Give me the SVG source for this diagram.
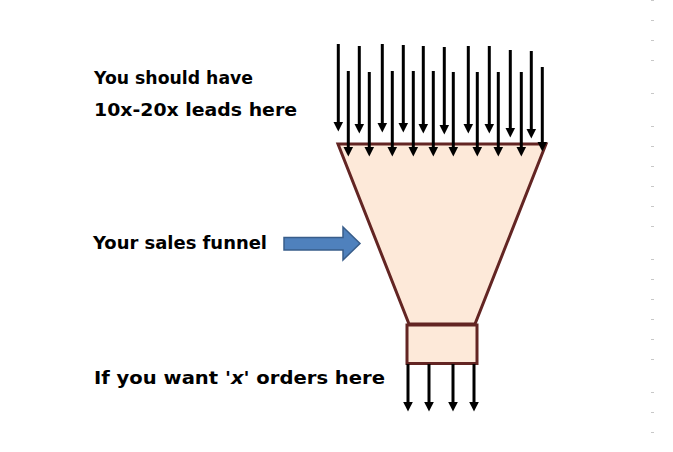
<svg xmlns="http://www.w3.org/2000/svg" width="673" height="452" viewBox="0 0 673 452">
<style>
  .lbl { font-family: "DejaVu Sans", "Liberation Sans", sans-serif; font-size: 18px; font-weight: bold; fill: #000; }
  .arr { stroke: #000; stroke-width: 3; fill: none; marker-end: url(#head); }
  .funnel { fill: #FDE9D9; stroke: #632523; stroke-width: 3; stroke-linejoin: miter; }
  .tick { stroke: #c8c8c8; stroke-width: 1; }
</style>
<defs>
  <marker id="head" markerUnits="userSpaceOnUse" markerWidth="12" markerHeight="12" refX="0" refY="0" viewBox="0 -6 12 12" orient="auto">
    <path d="M0,-4.8 L9.5,0 L0,4.8 z" fill="#000"/>
  </marker>
</defs>
<rect width="673" height="452" fill="#fff"/>

<g id="edge-ticks">
  <line class="tick" x1="651" y1="0.5" x2="654" y2="0.5"/>
  <line class="tick" x1="651" y1="20.5" x2="654" y2="20.5"/>
  <line class="tick" x1="651" y1="40.5" x2="654" y2="40.5"/>
  <line class="tick" x1="651" y1="60.5" x2="654" y2="60.5"/>
  <line class="tick" x1="651" y1="93.5" x2="654" y2="93.5"/>
  <line class="tick" x1="651" y1="126.5" x2="654" y2="126.5"/>
  <line class="tick" x1="651" y1="146.5" x2="654" y2="146.5"/>
  <line class="tick" x1="651" y1="166.5" x2="654" y2="166.5"/>
  <line class="tick" x1="651" y1="186.5" x2="654" y2="186.5"/>
  <line class="tick" x1="651" y1="206.5" x2="654" y2="206.5"/>
  <line class="tick" x1="651" y1="226.5" x2="654" y2="226.5"/>
  <line class="tick" x1="651" y1="259.5" x2="654" y2="259.5"/>
  <line class="tick" x1="651" y1="279.5" x2="654" y2="279.5"/>
  <line class="tick" x1="651" y1="299.5" x2="654" y2="299.5"/>
  <line class="tick" x1="651" y1="319.5" x2="654" y2="319.5"/>
  <line class="tick" x1="651" y1="339.5" x2="654" y2="339.5"/>
  <line class="tick" x1="651" y1="359.5" x2="654" y2="359.5"/>
  <line class="tick" x1="651" y1="392.5" x2="654" y2="392.5"/>
  <line class="tick" x1="651" y1="412.5" x2="654" y2="412.5"/>
  <line class="tick" x1="651" y1="432.5" x2="654" y2="432.5"/>
</g>

<g id="funnel">
  <polygon class="funnel" points="338,144 546,144 475,324 409,324"/>
  <rect class="funnel" x="407" y="325" width="70" height="38.5"/>
</g>

<g id="pointer-arrow">
  <path d="M284,237.5 L343,237.5 L343,227 L360,243.5 L343,260 L343,250 L284,250 z" fill="#4F81BD" stroke="#385D8A" stroke-width="1.5" stroke-linejoin="miter"/>
</g>

<g id="connectors">
  <line class="arr" x1="338.3" y1="44" x2="338.3" y2="122"/>
  <line class="arr" x1="359.3" y1="46" x2="359.3" y2="124"/>
  <line class="arr" x1="382.3" y1="44" x2="382.3" y2="123"/>
  <line class="arr" x1="403.3" y1="45" x2="403.3" y2="123"/>
  <line class="arr" x1="423.3" y1="46" x2="423.3" y2="124"/>
  <line class="arr" x1="444.3" y1="47" x2="444.3" y2="125"/>
  <line class="arr" x1="468.3" y1="46" x2="468.3" y2="124"/>
  <line class="arr" x1="489.3" y1="46" x2="489.3" y2="124"/>
  <line class="arr" x1="510.3" y1="50" x2="510.3" y2="128"/>
  <line class="arr" x1="531.3" y1="51" x2="531.3" y2="129"/>

  <line class="arr" x1="348.3" y1="71" x2="348.3" y2="147"/>
  <line class="arr" x1="369.3" y1="72" x2="369.3" y2="147"/>
  <line class="arr" x1="392.3" y1="71" x2="392.3" y2="147"/>
  <line class="arr" x1="413.3" y1="71" x2="413.3" y2="147"/>
  <line class="arr" x1="433.3" y1="71" x2="433.3" y2="147"/>
  <line class="arr" x1="453.3" y1="72" x2="453.3" y2="147"/>
  <line class="arr" x1="477.3" y1="72" x2="477.3" y2="147"/>
  <line class="arr" x1="498.3" y1="72" x2="498.3" y2="147"/>
  <line class="arr" x1="521.3" y1="72" x2="521.3" y2="147"/>
  <line class="arr" x1="542.3" y1="67" x2="542.3" y2="142"/>

  <line class="arr" x1="408" y1="364" x2="408" y2="402"/>
  <line class="arr" x1="429" y1="364" x2="429" y2="402"/>
  <line class="arr" x1="453" y1="364" x2="453" y2="402"/>
  <line class="arr" x1="474" y1="364" x2="474" y2="402"/>
</g>

<g id="labels">
  <text class="lbl" x="94" y="84" textLength="159" lengthAdjust="spacingAndGlyphs">You should have</text>
  <text class="lbl" x="94" y="116" textLength="203" lengthAdjust="spacingAndGlyphs">10x-20x leads here</text>
  <text class="lbl" x="93" y="249" textLength="174" lengthAdjust="spacingAndGlyphs">Your sales funnel</text>
  <text class="lbl" x="94" y="384" textLength="291" lengthAdjust="spacingAndGlyphs">If you want '<tspan font-style="italic">x</tspan>' orders here</text>
</g>
</svg>
